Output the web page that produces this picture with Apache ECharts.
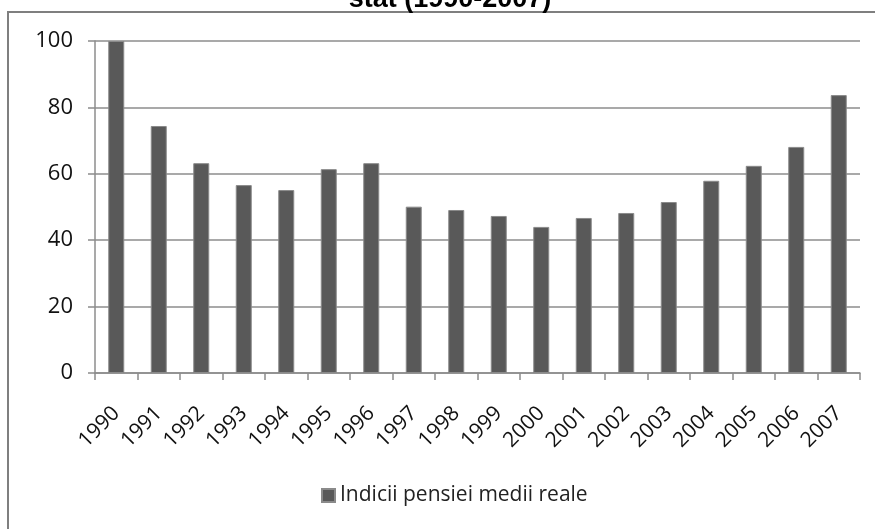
<!DOCTYPE html>
<html>
<head>
<meta charset="utf-8">
<script src="https://cdn.jsdelivr.net/npm/echarts@6/dist/echarts.min.js"></script>
<style>
  html, body { margin: 0; padding: 0; background: #fff; }
  #chart { width: 875px; height: 529px; }
</style>
</head>
<body>
<div id="chart"></div>
<script>
// ani si indicii pensiei medii reale (1990 = 100)
var years = ['1990', '1991', '1992', '1993', '1994', '1995', '1996', '1997', '1998',
  '1999', '2000', '2001', '2002', '2003', '2004', '2005', '2006', '2007'];
var indici = [100, 74.4, 63.2, 56.6, 55.1, 61.4, 63.2, 50.1, 49.1,
  47.3, 44.0, 46.7, 48.2, 51.5, 57.9, 62.4, 68.1, 83.7];
var yTicks = [0, 20, 40, 60, 80, 100];

var chart = echarts.init(document.getElementById('chart'));

var option = {
  backgroundColor: '#fff',
  animation: false,
  title: {
    text: 'stat (1990-2007)',
    left: 445,
    textAlign: 'center',
    top: -19,
    textStyle: {
      fontFamily: 'Liberation Sans',
      fontWeight: 'bold',
      fontSize: 27,
      color: '#000'
    }
  },
  graphic: [{
    type: 'rect',
    shape: { x: 8, y: 12, width: 900, height: 600 },
    style: { fill: '#fff', stroke: '#7f7f7f', lineWidth: 2 },
    z: -10,
    silent: true
  }],
  legend: {
    bottom: 18,
    left: 316,
    itemWidth: 13,
    itemHeight: 13,
    icon: 'rect',
    textStyle: { fontFamily: 'Open Sans', fontSize: 21, color: '#222' },
    data: ['Indicii pensiei medii reale']
  },
  grid: { left: 95, right: 15, top: 41, bottom: 156 },
  xAxis: {
    type: 'category',
    data: years,
    axisLine: { lineStyle: { color: '#8c8c8c', width: 1.5 } },
    axisTick: { show: true, length: 7, lineStyle: { color: '#8c8c8c', width: 1.5 } },
    axisLabel: {
      rotate: 45,
      margin: 37,
      fontFamily: 'Open Sans',
      fontSize: 21,
      color: '#111'
    }
  },
  yAxis: {
    type: 'value',
    min: yTicks[0],
    max: yTicks[yTicks.length - 1],
    interval: 20,
    axisLine: { show: true, lineStyle: { color: '#8c8c8c', width: 1.5 } },
    axisTick: { show: true, length: 7, lineStyle: { color: '#8c8c8c', width: 1.5 } },
    splitLine: { lineStyle: { color: '#8c8c8c', width: 1.5 } },
    axisLabel: {
      margin: 22,
      fontFamily: 'Open Sans',
      fontSize: 22,
      color: '#111'
    }
  },
  series: [{
    name: 'Indicii pensiei medii reale',
    type: 'bar',
    data: indici,
    barWidth: 16,
    itemStyle: { color: '#595959', borderColor: '#8a8a8a', borderWidth: 1 }
  }]
};

chart.setOption(option);
</script>
</body>
</html>
